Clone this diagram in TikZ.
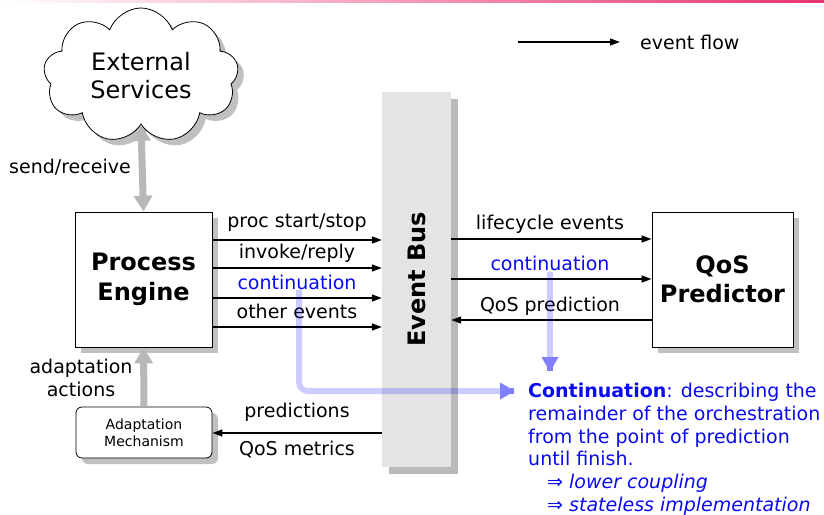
\documentclass[tikz,border=0pt]{standalone}
\usepackage{fontspec}
\setmainfont{DejaVu Sans}[ItalicFont={DejaVu Sans Oblique},BoldFont={DejaVu Sans Bold},BoldItalicFont={DejaVu Sans Bold Oblique}]
\usetikzlibrary{arrows.meta,shapes.symbols,shadows,calc}
\definecolor{barpink}{RGB}{232,51,111}
\definecolor{shadowgray}{RGB}{192,192,192}
\definecolor{busgray}{RGB}{228,228,228}
\definecolor{busshadow}{RGB}{186,186,186}
\definecolor{headblue}{RGB}{128,128,255}
\definecolor{textblue}{RGB}{10,10,240}
\begin{document}
\begin{tikzpicture}[x=1pt,y=-1pt,
  lbl/.style={font=\fontsize{19}{22.7}\selectfont, inner sep=0pt},
  box/.style={draw=black, line width=0.8pt, fill=white, align=center,
    drop shadow={shadow xshift=6pt,shadow yshift=-6pt,fill=shadowgray,opacity=1}},
  big/.style={font=\bfseries\fontsize{24}{29.5}\selectfont},
  ev/.style={line width=1.4pt, -{Triangle[length=10pt,width=7pt]}},
  grarrow/.style={line width=7pt, draw=black!28, -{Triangle[length=16pt,width=18pt]}},
  grboth/.style={line width=7pt, draw=black!28, {Triangle[length=16pt,width=18pt]}-{Triangle[length=16pt,width=18pt]}},
  noteline/.style={line width=6pt, draw=blue, draw opacity=0.2, rounded corners=9pt},
  notehead/.style={line width=6pt, draw=headblue, -{Triangle[length=15pt,width=16pt]}},
]
\useasboundingbox (0,0) rectangle (824,514);
\shade[left color=white, right color=barpink] (0,0) rectangle (824,2.5);

% cloud
\node[cloud, cloud puffs=9, cloud puff arc=140, draw, fill=white, line width=0.8pt,
  minimum width=195pt, minimum height=135pt, inner sep=0pt,
  drop shadow={shadow xshift=6pt,shadow yshift=-6pt,fill=shadowgray,opacity=1}]
  (ext) at (141,75.5) {};
\node[align=center, inner sep=0pt, font=\fontsize{24}{28}\selectfont] (exttext) at (141,76) {External\\Services};

% boxes
\node[box, big, minimum width=137pt, minimum height=135pt] (pe) at (143.5,279.5) {Process\\Engine};
\node[box, big, minimum width=141pt, minimum height=135pt] (qos) at (722.5,279.5) {QoS\\Predictor};
\node[box, rounded corners=6pt, minimum width=136pt, minimum height=51pt,
  font=\fontsize{14}{17}\selectfont] (am) at (144,432.5) {Adaptation\\Mechanism};
\node[fill=busgray, minimum width=69pt, minimum height=375pt, inner sep=0pt,
  drop shadow={shadow xshift=7pt,shadow yshift=-7pt,fill=busshadow,opacity=1}] (bus) at (416.5,279.5) {};
\node[big, rotate=90] (bustext) at (bus.center) {Event Bus};

% gray arrows
\draw[grboth] (pe.north) -- (ext.south);
\node[lbl] (sr) at (70,167) {send/receive};
\draw[grarrow] (am.north) -- (pe.south);
\node[lbl, align=center] (aa) at (81,378) {adaptation\\actions};

% left events
\draw[ev] (pe.east |- 0,240) -- (bus.west |- 0,240);
\draw[ev] (pe.east |- 0,268) -- (bus.west |- 0,268);
\draw[ev] (pe.east |- 0,298) -- (bus.west |- 0,298);
\draw[ev] (pe.east |- 0,327) -- (bus.west |- 0,327);
\node[lbl] (l1) at (297,223) {proc start/stop};
\node[lbl] (l2) at (297,253) {invoke/reply};
\node[lbl, text=textblue] (l3) at (297,282) {continuation};
\node[lbl] (l4) at (297,311) {other events};

% right events
\draw[ev] (bus.east |- 0,239) -- (qos.west |- 0,239);
\draw[ev] (bus.east |- 0,279) -- (qos.west |- 0,279);
\draw[ev] (qos.west |- 0,320) -- (bus.east |- 0,320);
\node[lbl] (r1) at (550,224) {lifecycle events};
\node[lbl, text=textblue] (r2) at (550,263) {continuation};
\node[lbl] (r3) at (550,306) {QoS prediction};

% bottom
\draw[ev] (bus.west |- 0,433) -- (am.east |- 0,433);
\node[lbl] (b1) at (297,412) {predictions};
\node[lbl] (b2) at (297,450) {QoS metrics};

% legend
\coordinate (lg1) at (518,42);
\coordinate (lg2) at (620,42);
\draw[ev] (lg1) -- (lg2);
\node[lbl, anchor=west] (lgt) at (640,42) {event flow};

% note
\node[anchor=north west, inner sep=0pt, text=textblue, align=left,
  font=\fontsize{19}{22.7}\selectfont] (note) at (528,383)
  {\textbf{Continuation}: describing the\\remainder of the orchestration\\from the point of prediction\\until finish.\\
   \hspace*{19pt}⇒ \textit{lower coupling}\\\hspace*{19pt}⇒ \textit{stateless implementation}};

\coordinate (c1) at (299,290);
\coordinate (c2) at (500,391);
\coordinate (c3) at (515,391);
\draw[noteline] (c1) |- (c2);
\draw[notehead] ([xshift=-1pt]c3) -- (c3);
\coordinate (d1) at (550,272);
\coordinate (d2) at (550,358);
\coordinate (d3) at (550,372);
\draw[noteline] (d1) -- (d2);
\draw[notehead] ([yshift=1pt]d3) -- (d3);
\end{tikzpicture}
\end{document}
